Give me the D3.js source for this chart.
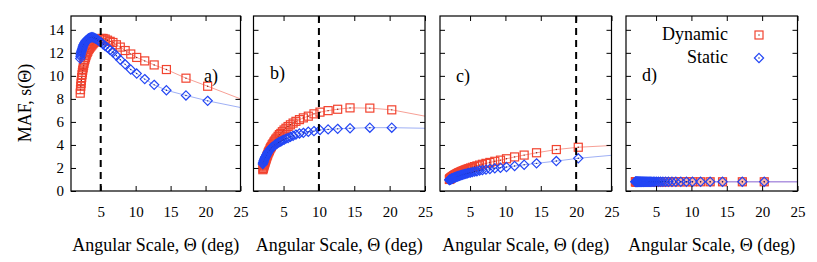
<!DOCTYPE html>
<html>
<head>
<meta charset="utf-8">
<script src="https://cdn.jsdelivr.net/npm/d3@7"></script>
<style>
  body { margin: 0; background: #fff; }
  text { font-family: "Liberation Serif", "Times New Roman", serif; fill: #000; }
</style>
</head>
<body>
<script>
// angular scales where the MAF was measured (deg)
var theta = [2.07, 2.11, 2.15, 2.19, 2.23, 2.28, 2.33, 2.38, 2.43, 2.49,
	2.55, 2.61, 2.68, 2.75, 2.82, 2.9, 2.99, 3.08, 3.17, 3.27,
	3.38, 3.5, 3.63, 3.76, 3.9, 4.06, 4.23, 4.41, 4.61, 4.83,
	5.07, 5.34, 5.64, 5.97, 6.35, 6.75, 7.25, 7.8, 8.5, 9.3,
	10.15, 11.3, 12.65, 14.4, 17.2, 20.3];

// panel a)
var dynA = [8.5, 8.8, 9.1, 9.35, 9.6, 9.85, 10.1, 10.3, 10.5, 10.7,
	10.9, 11.1, 11.3, 11.45, 11.6, 11.75, 11.9, 12.05, 12.15, 12.3,
	12.4, 12.5, 12.6, 12.7, 12.8, 12.9, 13.0, 13.1, 13.15, 13.2,
	13.25, 13.25, 13.2, 13.1, 13.0, 12.9, 12.7, 12.5, 12.2, 11.9,
	11.6, 11.3, 10.95, 10.55, 9.8, 9.1];
var statA = [11.5, 11.7, 11.85, 12.0, 12.1, 12.2, 12.3, 12.4, 12.5, 12.6,
	12.7, 12.75, 12.85, 12.9, 13.0, 13.05, 13.1, 13.15, 13.2, 13.25,
	13.3, 13.3, 13.35, 13.35, 13.35, 13.3, 13.25, 13.2, 13.1, 13.0,
	12.9, 12.75, 12.6, 12.45, 12.25, 12.05, 11.75, 11.4, 11.0, 10.55,
	10.2, 9.72, 9.22, 8.75, 8.3, 7.83];
// panel b)
var dynB = [1.85, 1.95, 2.0, 2.1, 2.2, 2.3, 2.4, 2.5, 2.6, 2.7,
	2.8, 2.95, 3.05, 3.15, 3.3, 3.4, 3.5, 3.65, 3.75, 3.85,
	4.0, 4.1, 4.25, 4.35, 4.5, 4.6, 4.75, 4.9, 5.0, 5.15,
	5.3, 5.45, 5.6, 5.75, 5.9, 6.05, 6.2, 6.35, 6.5, 6.7,
	6.85, 6.98, 7.1, 7.22, 7.2, 7.05];
var statB = [2.35, 2.45, 2.5, 2.6, 2.65, 2.75, 2.8, 2.9, 2.95, 3.0,
	3.1, 3.15, 3.25, 3.3, 3.4, 3.45, 3.5, 3.6, 3.65, 3.7,
	3.8, 3.85, 3.9, 4.0, 4.05, 4.1, 4.2, 4.25, 4.3, 4.4,
	4.45, 4.55, 4.6, 4.7, 4.8, 4.9, 5.0, 5.05, 5.15, 5.2,
	5.3, 5.35, 5.4, 5.45, 5.5, 5.5];
// panel c)
var dynC = [1.0, 1.02, 1.05, 1.07, 1.1, 1.12, 1.15, 1.17, 1.2, 1.22,
	1.25, 1.28, 1.31, 1.34, 1.37, 1.4, 1.43, 1.46, 1.5, 1.53,
	1.57, 1.6, 1.64, 1.68, 1.72, 1.76, 1.8, 1.85, 1.9, 1.95,
	2.0, 2.06, 2.12, 2.18, 2.25, 2.32, 2.4, 2.48, 2.58, 2.68,
	2.8, 2.96, 3.12, 3.32, 3.6, 3.8];
var statC = [0.95, 0.97, 0.98, 1.0, 1.01, 1.03, 1.04, 1.06, 1.07, 1.09,
	1.1, 1.12, 1.14, 1.16, 1.18, 1.2, 1.22, 1.24, 1.26, 1.28,
	1.3, 1.33, 1.36, 1.38, 1.41, 1.44, 1.47, 1.5, 1.53, 1.57,
	1.6, 1.64, 1.68, 1.72, 1.77, 1.81, 1.86, 1.91, 1.97, 2.02,
	2.08, 2.17, 2.28, 2.4, 2.6, 2.84];
// panel d)
var dynD = [0.8, 0.8, 0.8, 0.8, 0.8, 0.8, 0.8, 0.8, 0.8, 0.8,
	0.8, 0.8, 0.8, 0.8, 0.8, 0.8, 0.8, 0.8, 0.8, 0.8,
	0.8, 0.8, 0.8, 0.8, 0.8, 0.8, 0.8, 0.8, 0.8, 0.8,
	0.8, 0.8, 0.8, 0.8, 0.8, 0.8, 0.8, 0.8, 0.8, 0.8,
	0.8, 0.8, 0.8, 0.8, 0.8, 0.8];
var statD = [0.8, 0.8, 0.8, 0.8, 0.8, 0.8, 0.8, 0.8, 0.8, 0.8,
	0.8, 0.8, 0.8, 0.8, 0.8, 0.8, 0.8, 0.8, 0.8, 0.8,
	0.8, 0.8, 0.8, 0.8, 0.8, 0.8, 0.8, 0.8, 0.8, 0.8,
	0.8, 0.8, 0.8, 0.8, 0.8, 0.8, 0.8, 0.8, 0.8, 0.8,
	0.8, 0.8, 0.8, 0.8, 0.8, 0.8];

// where the fitted curves reach the right edge (theta = 25)
var fitTheta = 25;
var dynFitEnd = [8.0, 6.5, 3.95, 0.8];
var statFitEnd = [7.25, 5.45, 3.1, 0.8];

var panelNames = ["a)", "b)", "c)", "d)"];
var dashAt = [5, 10, 20, null];
var xTicks = [5, 10, 15, 20, 25];
var yTicks = [0, 2, 4, 6, 8, 10, 12, 14];
var seriesNames = ["Dynamic", "Static"];

var dynamic = [dynA, dynB, dynC, dynD];
var stat = [statA, statB, statC, statD];

// layout
var W = 817, H = 262;
var plotTop = 16, plotBottom = 191;
var panels = [
	{x0: 71, x1: 240.5, lx: 204, ly: 82},
	{x0: 253.5, x1: 425, lx: 270, ly: 79},
	{x0: 440, x1: 611.5, lx: 456, ly: 82},
	{x0: 626, x1: 797.5, lx: 642, ly: 81}
];
var red = "#f2432f", redLine = "#f7a096";
var blue = "#2346f5", blueLine = "#9fb0f5";

var svg = d3.select("body").append("svg")
	.attr("width", W)
	.attr("height", H);

function square(g, x, y, fill) {
	g.append("rect")
		.attr("x", x - 4).attr("y", y - 4)
		.attr("width", 8).attr("height", 8)
		.attr("fill", fill || "none")
		.attr("stroke", red)
		.attr("stroke-width", 1.2);
	g.append("circle").attr("cx", x).attr("cy", y).attr("r", 0.7).attr("fill", "#8a1a10");
}

function diamond(g, x, y) {
	g.append("path")
		.attr("d", "M" + x + "," + (y - 4.6) + "L" + (x + 4.6) + "," + y + "L" + x + "," + (y + 4.6) + "L" + (x - 4.6) + "," + y + "Z")
		.attr("fill", "none")
		.attr("stroke", blue)
		.attr("stroke-width", 1.2);
	g.append("circle").attr("cx", x).attr("cy", y).attr("r", 0.7).attr("fill", "#10208a");
}

panels.forEach(function(P, i) {
	var g = svg.append("g");
	var x = d3.scaleLinear().domain([0.75, 25]).range([P.x0, P.x1]);
	var y = d3.scaleLinear().domain([0, 15.2]).range([plotBottom, plotTop]);

	// fitted curves behind the markers
	var line = d3.line()
		.x(function(d) { return x(d[0]); })
		.y(function(d) { return y(d[1]); });
	var dynPts = theta.map(function(t, j) { return [t, dynamic[i][j]]; });
	dynPts.push([fitTheta, dynFitEnd[i]]);
	var statPts = theta.map(function(t, j) { return [t, stat[i][j]]; });
	statPts.push([fitTheta, statFitEnd[i]]);
	g.append("path").attr("d", line(dynPts)).attr("fill", "none")
		.attr("stroke", i == 3 ? "#b08ad8" : redLine).attr("stroke-width", 1);
	g.append("path").attr("d", line(statPts)).attr("fill", "none")
		.attr("stroke", i == 3 ? "#a890e0" : blueLine).attr("stroke-width", 1);

	// markers: Dynamic first, Static on top
	var mg = g.append("g");
	theta.forEach(function(t, j) {
		square(mg, x(t), y(dynamic[i][j]), i == 3 ? "#f8b4aa" : null);
	});
	theta.forEach(function(t, j) {
		diamond(mg, x(t), y(stat[i][j]));
	});

	// dashed threshold line
	if (dashAt[i] != null) {
		g.append("line")
			.attr("x1", x(dashAt[i])).attr("x2", x(dashAt[i]))
			.attr("y1", plotTop).attr("y2", plotBottom)
			.attr("stroke", "#000")
			.attr("stroke-width", 2)
			.attr("stroke-dasharray", "7,5");
	}

	// axes with inward ticks on all sides
	var ax = g.append("g").attr("transform", "translate(0," + plotBottom + ")")
		.call(d3.axisBottom(x).tickValues(xTicks).tickSizeInner(-5).tickSizeOuter(0).tickPadding(15));
	ax.selectAll("text").style("font-size", "15px").style("font-family", "Liberation Serif");
	g.append("g").attr("transform", "translate(0," + plotTop + ")")
		.call(d3.axisTop(x).tickValues(xTicks).tickSizeInner(-5).tickSizeOuter(0).tickFormat(""));
	var ay = g.append("g").attr("transform", "translate(" + P.x0 + ",0)")
		.call(d3.axisLeft(y).tickValues(yTicks).tickSizeInner(-5).tickSizeOuter(0).tickPadding(7)
			.tickFormat(i == 0 ? d3.format("d") : ""));
	ay.selectAll("text").style("font-size", "15px").style("font-family", "Liberation Serif");
	g.append("g").attr("transform", "translate(" + P.x1 + ",0)")
		.call(d3.axisRight(y).tickValues(yTicks).tickSizeInner(-5).tickSizeOuter(0).tickFormat(""));
	g.selectAll(".domain").remove();
	g.selectAll(".tick line").attr("stroke", "#000").attr("stroke-width", 1);

	g.append("rect")
		.attr("x", P.x0).attr("y", plotTop)
		.attr("width", P.x1 - P.x0).attr("height", plotBottom - plotTop)
		.attr("fill", "none").attr("stroke", "#000").attr("stroke-width", 1.2);

	g.append("text").attr("x", P.lx).attr("y", P.ly)
		.style("font-size", "18px").text(panelNames[i]);

	g.append("text")
		.attr("x", (P.x0 + P.x1) / 2).attr("y", 251)
		.attr("text-anchor", "middle")
		.style("font-size", "18px")
		.text("Angular Scale, \u0398 (deg)");
});

svg.append("text")
	.attr("transform", "translate(31,103) rotate(-90)")
	.attr("text-anchor", "middle")
	.style("font-size", "18px")
	.text("MAF, s(\u0398)");

// legend
var lg = svg.append("g");
lg.append("text").attr("x", 728).attr("y", 40).attr("text-anchor", "end")
	.style("font-size", "18px").text(seriesNames[0]);
lg.append("text").attr("x", 728).attr("y", 63).attr("text-anchor", "end")
	.style("font-size", "18px").text(seriesNames[1]);
square(lg, 759, 35, null);
diamond(lg, 759, 58);
</script>
</body>
</html>
